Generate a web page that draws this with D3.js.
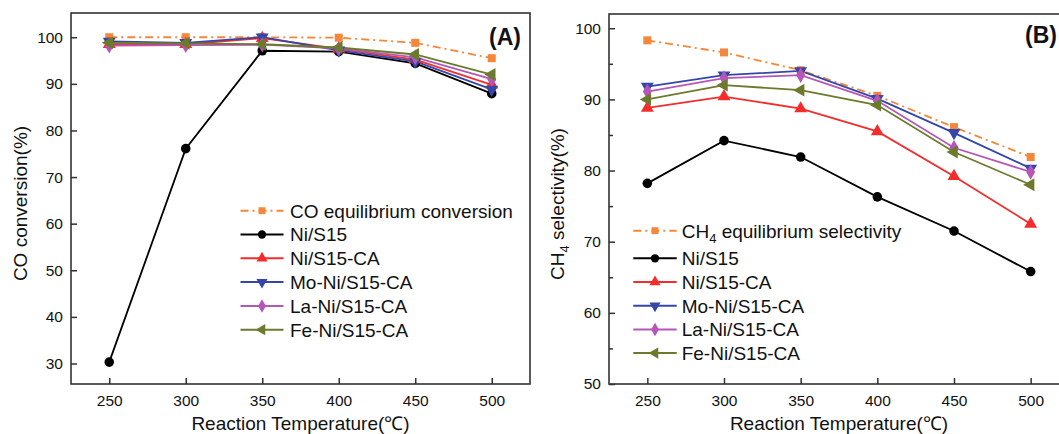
<!DOCTYPE html>
<html lang="en">
<head>
  <meta charset="UTF-8" />
  <title>CO conversion and CH4 selectivity</title>
  <script src="https://d3js.org/d3.v7.min.js"></script>
  <style>
    body { margin: 0; background: #fff; }
    text { font-family: "Liberation Sans", Arial, sans-serif; fill: #111; }
    .tick line { stroke: #333; stroke-width: 1.5px; }
    .tick text { font-size: 15.5px; }
  </style>
</head>
<body>
  <svg id="chart" width="1059" height="434"></svg>
  <script>
    // x values (reaction temperature, °C)
    const temperatures = [250, 300, 350, 400, 450, 500];
    const seriesNames = ["Ni/S15", "Ni/S15-CA", "Mo-Ni/S15-CA", "La-Ni/S15-CA", "Fe-Ni/S15-CA"];

    // (A) CO conversion (%)
    const coEquilibrium = [100, 100, 100, 99.9, 98.8, 95.5];
    const coNiS15 = [30.3, 76.1, 97.1, 96.9, 94.4, 87.9];
    const coNiS15CA = [98.5, 98.5, 99.8, 97.5, 95.2, 89.8];
    const coMoNiS15CA = [99.1, 98.8, 100, 97.2, 94.8, 88.8];
    const coLaNiS15CA = [98.2, 98.3, 98.4, 97.6, 95.7, 91.0];
    const coFeNiS15CA = [98.8, 98.7, 98.5, 97.8, 96.3, 92.0];

    // (B) CH4 selectivity (%)
    const chEquilibrium = [98.3, 96.6, 94.1, 90.5, 86.1, 81.9];
    const chNiS15 = [78.2, 84.2, 81.9, 76.3, 71.5, 65.8];
    const chNiS15CA = [88.8, 90.4, 88.7, 85.5, 79.2, 72.5];
    const chMoNiS15CA = [91.8, 93.4, 94.0, 90.1, 85.3, 80.3];
    const chLaNiS15CA = [91.1, 93.0, 93.4, 89.8, 83.2, 79.8];
    const chFeNiS15CA = [90.0, 92.0, 91.3, 89.2, 82.6, 78.0];

    // ticks
    const xTicks = [250, 300, 350, 400, 450, 500];
    const coTicks = [30, 40, 50, 60, 70, 80, 90, 100];
    const chTicks = [50, 60, 70, 80, 90, 100];
    const chMinorTicks = [55, 65, 75, 85, 95];

    // styles: equilibrium first, then the catalysts
    const colors = ["#f5873a", "#000000", "#f42c2c", "#3446aa", "#b556b9", "#6b7b2b"];
    const symbols = [
      { type: d3.symbolSquare, size: 64, rot: 0 },
      { type: d3.symbolCircle, size: 72, rot: 0 },
      { type: d3.symbolTriangle, size: 72, rot: 0 },
      { type: d3.symbolTriangle, size: 72, rot: 180 },
      { type: d3.symbolDiamond, size: 70, rot: 0 },
      { type: d3.symbolTriangle, size: 72, rot: -90 }
    ];

    const svg = d3.select("#chart");
    svg.append("rect").attr("width", 1059).attr("height", 434).attr("fill", "#fff");

    function drawPanel(p) {
      const g = svg.append("g");
      const x = d3.scaleLinear().domain([225, 525]).range([p.left, p.right]);
      const y = d3.scaleLinear().domain(p.yDomain).range([p.bottom, p.top]);

      // axes, ticks pointing inward
      g.append("g")
        .attr("transform", `translate(0,${p.bottom})`)
        .call(d3.axisBottom(x).tickValues(xTicks).tickSizeInner(-6).tickSizeOuter(0).tickPadding(11))
        .call(a => a.select(".domain").remove());
      g.append("g")
        .attr("transform", `translate(${p.left},0)`)
        .call(d3.axisLeft(y).tickValues(p.yTicks).tickSizeInner(-6).tickSizeOuter(0).tickPadding(8))
        .call(a => a.select(".domain").remove());
      if (p.yMinor) {
        g.append("g")
          .attr("transform", `translate(${p.left},0)`)
          .call(d3.axisLeft(y).tickValues(p.yMinor).tickSizeInner(-4).tickSizeOuter(0).tickFormat(""))
          .call(a => a.select(".domain").remove());
      }

      g.append("rect")
        .attr("x", p.left).attr("y", p.top)
        .attr("width", p.right - p.left).attr("height", p.bottom - p.top)
        .attr("fill", "none").attr("stroke", "#333").attr("stroke-width", 1.6);

      const line = d3.line().x((d, i) => x(temperatures[i])).y(d => y(d));

      p.series.forEach((vals, s) => {
        g.append("path")
          .datum(vals)
          .attr("d", line)
          .attr("fill", "none")
          .attr("stroke", colors[s])
          .attr("stroke-width", 1.8)
          .attr("stroke-dasharray", s === 0 ? "8,4,2,4" : null);
      });
      p.series.forEach((vals, s) => {
        const sym = symbols[s];
        g.selectAll(null)
          .data(vals)
          .join("path")
          .attr("d", d3.symbol().type(sym.type).size(sym.size))
          .attr("transform", (d, i) => `translate(${x(temperatures[i])},${y(d)}) rotate(${sym.rot})`)
          .attr("fill", colors[s]);
      });

      // legend
      const lg = p.legend;
      const labels = [p.eqLabel].concat(seriesNames);
      labels.forEach((lab, i) => {
        const cy = lg.top + i * lg.step + (i > 0 ? lg.extra : 0);
        g.append("line")
          .attr("x1", lg.x1).attr("x2", lg.x2).attr("y1", cy).attr("y2", cy)
          .attr("stroke", colors[i]).attr("stroke-width", 2)
          .attr("stroke-dasharray", i === 0 ? "8,4,2,4" : null);
        const sym = symbols[i];
        g.append("path")
          .attr("d", d3.symbol().type(sym.type).size(sym.size * 0.75))
          .attr("transform", `translate(${(lg.x1 + lg.x2) / 2},${cy}) rotate(${sym.rot})`)
          .attr("fill", colors[i]);
        const t = g.append("text")
          .attr("x", lg.tx).attr("y", cy + 6.8)
          .attr("font-size", 19);
        if (typeof lab === "string") t.text(lab);
        else lab(t);
      });

      // panel tag
      g.append("text")
        .attr("x", p.tagX).attr("y", p.tagY)
        .attr("font-size", 23).attr("font-weight", "bold")
        .attr("text-anchor", "end")
        .text(p.tag);

      // axis titles
      g.append("text")
        .attr("x", (p.left + p.right) / 2).attr("y", 430)
        .attr("text-anchor", "middle").attr("font-size", 19)
        .text("Reaction Temperature(℃)");
      const yt = g.append("text")
        .attr("transform", `translate(${p.yTitleX},${(p.top + p.bottom) / 2 + 5}) rotate(-90)`)
        .attr("text-anchor", "middle").attr("font-size", 19);
      p.yTitle(yt);
    }

    drawPanel({
      left: 71, right: 530, top: 13, bottom: 384,
      yDomain: [25.6, 105.2],
      yTicks: coTicks,
      series: [coEquilibrium, coNiS15, coNiS15CA, coMoNiS15CA, coLaNiS15CA, coFeNiS15CA],
      eqLabel: "CO equilibrium conversion",
      legend: { top: 210.7, step: 23.8, extra: 0, x1: 240.5, x2: 283.5, tx: 290 },
      tag: "(A)", tagX: 521, tagY: 45,
      yTitleX: 27,
      yTitle: t => t.text("CO conversion(%)")
    });

    drawPanel({
      left: 609, right: 1069, top: 14, bottom: 384,
      yDomain: [50, 102],
      yTicks: chTicks,
      yMinor: chMinorTicks,
      series: [chEquilibrium, chNiS15, chNiS15CA, chMoNiS15CA, chLaNiS15CA, chFeNiS15CA],
      eqLabel: t => {
        t.append("tspan").text("CH");
        t.append("tspan").attr("font-size", 13).attr("dy", 5).text("4");
        t.append("tspan").attr("dy", -5).text(" equilibrium selectivity");
      },
      legend: { top: 230.7, step: 23.7, extra: 3.9, x1: 633.3, x2: 676.7, tx: 681.7 },
      tag: "(B)", tagX: 1057, tagY: 43,
      yTitleX: 564,
      yTitle: t => {
        t.append("tspan").text("CH");
        t.append("tspan").attr("font-size", 13).attr("dy", 5).text("4");
        t.append("tspan").attr("dy", -5).text(" selectivity(%)");
      }
    });
  </script>
</body>
</html>
